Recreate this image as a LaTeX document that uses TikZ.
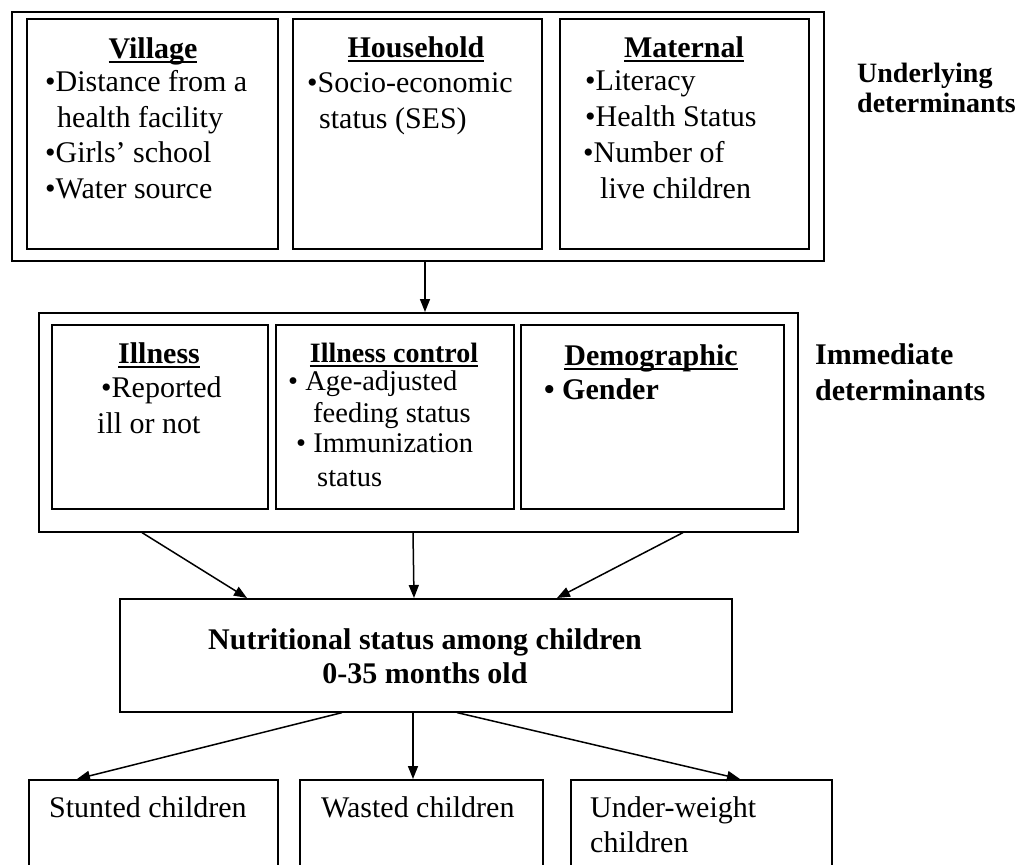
\documentclass[tikz,border=0pt]{standalone}
\usepackage{fontspec}
\setmainfont{Liberation Serif}
\usetikzlibrary{arrows.meta}

% bold heading with a word-processor style underline through the descenders
\newcommand{\headline}[1]{\setbox0\hbox{#1}\rlap{\rule[-5pt]{\wd0}{2.2pt}}\box0}

\tikzset{
  box/.style={draw, line width=1.6pt, rectangle, inner sep=0pt, anchor=north west},
  txt/.style={inner sep=0pt, anchor=base west, font=\fontsize{30}{36}\selectfont},
  smalltxt/.style={inner sep=0pt, anchor=base west, font=\fontsize{28.5}{34}\selectfont},
  head/.style={inner sep=0pt, anchor=base, font=\fontsize{30}{36}\selectfont\bfseries},
  smallhead/.style={inner sep=0pt, anchor=base, font=\fontsize{28}{34}\selectfont\bfseries},
  side/.style={inner sep=0pt, anchor=base west, font=\fontsize{30}{36}\selectfont\bfseries},
  arr/.style={line width=1.5pt, -{Triangle[length=13pt,width=10pt]}},
}

\begin{document}
\begin{tikzpicture}[x=1pt,y=-1pt]
\useasboundingbox (0,0) rectangle (1029,865);
\clip (0,0) rectangle (1029,865);

% ---- underlying determinants ----
\node[box, minimum width=812pt, minimum height=249pt] (frameU) at (11,11) {};
\node[box, minimum width=251pt, minimum height=230pt] (village) at (26,18) {};
\node[box, minimum width=249pt, minimum height=230pt] (household) at (292,18) {};
\node[box, minimum width=249pt, minimum height=230pt] (maternal) at (559,18) {};

\node[head] (villageT) at (153,58) {\headline{Village}};
\node[txt] (village1) at (45,91) {•Distance from a};
\node[txt] (village2) at (57,127) {health facility};
\node[txt] (village3) at (45,162) {•Girls’ school};
\node[txt] (village4) at (45,198) {•Water source};

\node[head] (householdT) at (416,57) {\headline{Household}};
\node[txt] (household1) at (307,92) {•Socio-economic};
\node[txt] (household2) at (319,128) {status (SES)};

\node[head] (maternalT) at (684,57) {\headline{Maternal}};
\node[txt] (maternal1) at (585,90) {•Literacy};
\node[txt] (maternal2) at (585,126) {•Health Status};
\node[txt] (maternal3) at (583,162) {•Number of};
\node[txt] (maternal4) at (600,198) {live children};

\node[side, font=\fontsize{28}{32}\selectfont\bfseries] (underA) at (857,82) {Underlying};
\node[side, font=\fontsize{28}{32}\selectfont\bfseries] (underB) at (857,112) {determinants};

% ---- immediate determinants ----
\node[box, minimum width=759pt, minimum height=219pt] (frameI) at (38,312) {};
\node[box, minimum width=216pt, minimum height=184pt] (illness) at (51,324) {};
\node[box, minimum width=238pt, minimum height=184pt] (control) at (275,324) {};
\node[box, minimum width=263pt, minimum height=184pt] (demo) at (520,324) {};

\node[head] (illnessT) at (159,363) {\headline{Illness}};
\node[txt] (illness1) at (101,397) {•Reported};
\node[txt] (illness2) at (97,433) {ill or not};

\node[smallhead] (controlT) at (394,362) {\headline{Illness control}};
\node[smalltxt] (control1) at (288,390) {• Age-adjusted};
\node[smalltxt] (control2) at (313,422) {feeding status};
\node[smalltxt] (control3) at (296,452) {• Immunization};
\node[smalltxt] (control4) at (317,486) {status};

\node[head] (demoT) at (651,365) {\headline{Demographic}};
\node[side] (demo1) at (544,399) {• Gender};

\node[side] (immA) at (815,364) {Immediate};
\node[side] (immB) at (815,400) {determinants};

% ---- outcome ----
\node[box, minimum width=612pt, minimum height=113pt] (nut) at (119,598) {};
\node[head] (nutA) at (425,649) {Nutritional status among children};
\node[head] (nutB) at (425,683) {0-35 months old};

\node[box, minimum width=249pt, minimum height=120pt] (stunted) at (28,779) {};
\node[box, minimum width=243pt, minimum height=120pt] (wasted) at (299,779) {};
\node[box, minimum width=261pt, minimum height=120pt] (underw) at (570,779) {};

\node[txt] (stuntedT) at (49,817) {Stunted children};
\node[txt] (wastedT) at (321,817) {Wasted children};
\node[txt] (underwA) at (590,817) {Under-weight};
\node[txt] (underwB) at (590,852) {children};

% ---- connectors ----
\draw[arr] ([xshift=414pt]frameU.south west) -- ([xshift=387pt]frameI.north west);

\draw[arr] ([xshift=104pt]frameI.south west) -- ([xshift=128pt]nut.north west);
\draw[arr] ([xshift=375pt]frameI.south west) -- ([xshift=295pt]nut.north west);
\draw[arr] ([xshift=645pt]frameI.south west) -- ([xshift=438pt]nut.north west);

\draw[arr] ([xshift=223pt]nut.south west) -- ([xshift=49pt]stunted.north west);
\draw[arr] ([xshift=294pt]nut.south west) -- ([xshift=114pt]wasted.north west);
\draw[arr] ([xshift=338pt]nut.south west) -- ([xshift=170pt]underw.north west);
\end{tikzpicture}
\end{document}
